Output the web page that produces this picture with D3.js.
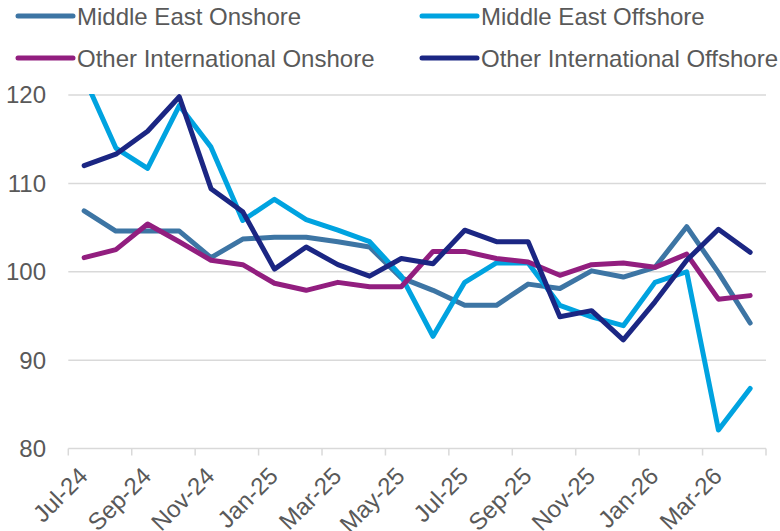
<!DOCTYPE html>
<html>
<head>
<meta charset="utf-8">
<script src="https://cdn.jsdelivr.net/npm/d3@7"></script>
<style>
  body { margin: 0; background: #fff; }
  svg { font-family: "Liberation Sans", Arial, sans-serif; }
</style>
</head>
<body>
<svg width="780" height="531"></svg>
<script>
var months = ["Jul-24","Aug-24","Sep-24","Oct-24","Nov-24","Dec-24","Jan-25","Feb-25","Mar-25","Apr-25","May-25","Jun-25",
  "Jul-25","Aug-25","Sep-25","Oct-25","Nov-25","Dec-25","Jan-26","Feb-26","Mar-26","Apr-26"]
var seriesNames = ["Middle East Onshore", "Middle East Offshore", "Other International Onshore", "Other International Offshore"]
var meOnshore = [106.9,104.6,104.6,104.6,101.6,103.7,103.9,103.9,103.4,102.8,99.3,97.9,96.2,96.2,98.6,98.1,100.1,99.4,100.5,105.1,99.9,94.2]
var meOffshore = [122.0,114.0,111.7,118.8,114.1,105.8,108.2,105.9,104.7,103.4,99.5,92.7,98.8,101.0,101.0,96.2,94.9,93.9,98.8,100.0,82.1,86.8]
var oiOnshore = [101.6,102.5,105.4,103.4,101.3,100.8,98.7,97.9,98.8,98.3,98.3,102.3,102.3,101.5,101.1,99.6,100.8,101.0,100.5,102.0,96.9,97.3]
var oiOffshore = [112.0,113.3,115.9,119.8,109.4,106.8,100.3,102.8,100.8,99.5,101.5,100.9,104.7,103.4,103.4,94.9,95.6,92.3,96.6,101.3,104.8,102.2]
var yTicks = [80, 90, 100, 110, 120]
var colors = ["#3d75a4", "#00a3e0", "#921e7f", "#1b2683"]

var allSeries = [meOnshore, meOffshore, oiOnshore, oiOffshore]
var textColor = "#595959"
var gridColor = "#d9d9d9"

var svg = d3.select("svg")

var x = d3.scaleBand().domain(months).range([68.3, 766]).padding(0)
var y = d3.scaleLinear().domain([80, 120]).range([448.5, 95])
var cx = d => x(d) + x.bandwidth() / 2

// gridlines
svg.append("g")
  .selectAll("line")
  .data(yTicks.filter(d => d > 80))
  .join("line")
  .attr("x1", 68.3).attr("x2", 766)
  .attr("y1", d => y(d)).attr("y2", d => y(d))
  .attr("stroke", gridColor).attr("stroke-width", 1.5)

// x axis line + ticks between categories
svg.append("line")
  .attr("x1", 68.3).attr("x2", 766)
  .attr("y1", y(80)).attr("y2", y(80))
  .attr("stroke", gridColor).attr("stroke-width", 1.5)

var tickPos = months.filter((d, i) => i % 2 == 0).map(d => x(d)).concat([x.range()[1]])
svg.append("g")
  .selectAll("line")
  .data(tickPos)
  .join("line")
  .attr("x1", d => d).attr("x2", d => d)
  .attr("y1", y(80)).attr("y2", y(80) + 7)
  .attr("stroke", gridColor).attr("stroke-width", 1.5)

// y labels
svg.append("g")
  .attr("fill", textColor)
  .style("font-size", "24px")
  .attr("text-anchor", "end")
  .selectAll("text")
  .data(yTicks)
  .join("text")
  .attr("x", 46)
  .attr("y", d => y(d))
  .attr("dy", "0.35em")
  .text(d => d)

// x labels
svg.append("g")
  .attr("fill", textColor)
  .style("font-size", "24px")
  .attr("text-anchor", "end")
  .selectAll("text")
  .data(months.filter((d, i) => i % 2 == 0))
  .join("text")
  .attr("transform", d => `translate(${cx(d) + 5},${y(80) + 29}) rotate(-45)`)
  .text(d => d)

// lines
svg.append("clipPath").attr("id", "plot")
  .append("rect")
  .attr("x", 60).attr("y", y(120) - 1)
  .attr("width", 720).attr("height", 400)

var line = d3.line()
  .x((d, i) => cx(months[i]))
  .y(d => y(d))

svg.append("g")
  .attr("clip-path", "url(#plot)")
  .selectAll("path")
  .data(allSeries)
  .join("path")
  .attr("d", line)
  .attr("fill", "none")
  .attr("stroke", (d, i) => colors[i])
  .attr("stroke-width", 5)
  .attr("stroke-linejoin", "round")
  .attr("stroke-linecap", "round")

// legend
var legendPos = [[18, 16], [422, 16], [18, 58], [422, 58]]
var legend = svg.append("g")
  .selectAll("g")
  .data(seriesNames)
  .join("g")
  .attr("transform", (d, i) => `translate(${legendPos[i][0]},${legendPos[i][1]})`)

legend.append("line")
  .attr("x1", 0).attr("x2", 55)
  .attr("stroke", (d, i) => colors[i])
  .attr("stroke-width", 5)
  .attr("stroke-linecap", "round")

legend.append("text")
  .attr("x", 59)
  .attr("dy", "0.36em")
  .attr("fill", textColor)
  .style("font-size", "24px")
  .text(d => d)
</script>
</body>
</html>
